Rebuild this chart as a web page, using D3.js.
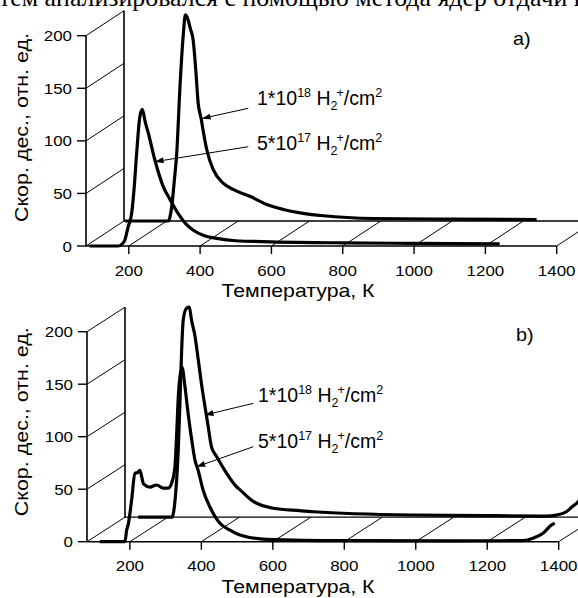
<!DOCTYPE html>
<html>
<head>
<meta charset="utf-8" />
<title>TDS spectra</title>
<script src="https://d3js.org/d3.v7.min.js"></script>
<style>
  body { margin: 0; background: #fff; }
  svg text { font-family: "Liberation Sans", Arial, sans-serif; fill: #000; }
</style>
</head>
<body>
<script>
// axis ticks
let xTicks = [200, 400, 600, 800, 1000, 1200, 1400];
let yTicks = [0, 50, 100, 150, 200];

// panel a) front layer (5*10^17)
let aFrontT = [90, 170, 180, 189, 198, 208, 215, 222, 231, 238, 246, 255, 273, 296, 316, 340, 360, 381, 410, 446, 500, 600, 800, 1000, 1240];
let aFrontV = [0, 0, 1.5, 5.7, 18, 31, 55, 88, 123, 130, 118, 107, 82, 57, 44, 30, 21, 15, 10, 7.3, 5, 4, 3, 2.5, 2];
// panel a) back layer (1*10^18)
let aBackT = [83, 204, 209, 214, 221, 228, 237, 246, 252, 258, 266, 274, 281, 288, 296, 303, 312, 330, 358, 386, 433, 480, 527, 574, 640, 780, 1000, 1237];
let aBackV = [0, 0, 4, 14, 38, 65, 128, 176, 196, 193, 183, 172, 145, 112, 98, 84, 68, 49, 36, 30, 23.5, 15.7, 11, 7.8, 5, 2.4, 1.8, 1.4];

// panel b) front layer (5*10^17)
let bFrontT = [116, 186, 191, 196, 205, 214, 222, 228, 233, 238, 256, 275, 293, 307, 317, 326, 331, 335, 340, 346, 354, 363, 373, 382, 391, 405, 424, 452, 480, 508, 582, 800, 1100, 1300, 1328, 1356, 1380, 1389];
let bFrontV = [0, 0, 11, 17.5, 40, 65, 66, 68, 62, 55, 52, 54, 51, 51, 56, 71, 103, 135, 157, 166, 148, 122, 97, 78, 68, 49, 33, 17.5, 11, 6.4, 2.3, 1, 0.8, 1, 3.2, 8, 16, 17.5];
// panel b) back layer (1*10^18)
let bBackT = [117, 212, 216, 220, 229, 234, 238.5, 243, 252, 260, 266, 276, 285, 294, 304, 313, 322, 336, 364, 392, 402, 439, 495, 569, 607, 886, 1100, 1259, 1287, 1315, 1334, 1348, 1362];
let bBackV = [0, 0, 5, 16, 64, 112, 159, 188, 199, 200, 188, 172, 150, 127, 105, 86, 67, 58, 42, 29, 26, 15, 8.5, 6.2, 5.2, 2.1, 1.5, 1.1, 2, 5.2, 10.7, 14.8, 22];

// where the arrows point: [T, value, layer]
let aArrowTips = [[298.7, 97.5, 1], [273.5, 80.2, 0]];
let bArrowTips = [[303.7, 97.3, 1], [386.8, 71.4, 0]];

let doses = [["1*10", "18"], ["5*10", "17"]];

let width = 578, height = 598;
let svg = d3.select("body").append("svg").attr("width", width).attr("height", height);

// arrowhead
svg.append("defs").append("marker")
  .attr("id", "head").attr("viewBox", "0 0 10 7")
  .attr("refX", 10).attr("refY", 3.5)
  .attr("markerWidth", 10).attr("markerHeight", 6)
  .attr("markerUnits", "userSpaceOnUse").attr("orient", "auto")
  .append("path").attr("d", "M0,0 L10,3.5 L0,7 Z").attr("fill", "#000");

// line of document text cut at the top
svg.append("text")
  .attr("x", -1).attr("y", 6)
  .attr("textLength", 600).attr("lengthAdjust", "spacingAndGlyphs")
  .style("font-family", "'Liberation Serif', 'Times New Roman', serif")
  .style("font-size", "26px")
  .text("тем анализировался с помощью метода ядер отдачи на");

let panels = [
  { front: [aFrontT, aFrontV], back: [aBackT, aBackV], tips: aArrowTips, name: "a)",
    xr: [86, 556.7], yr: [246, 35.7], dx: 38, dy: -25,
    textX: 257, textY: [105, 150], tails: [[248.3, 108.3], [248.3, 146.7]],
    nameX: 513, nameY: 45, ylabY: 127.5 },
  { front: [bFrontT, bFrontV], back: [bBackT, bBackV], tips: bArrowTips, name: "b)",
    xr: [87, 558.7], yr: [541.7, 331.7], dx: 38, dy: -24.5,
    textX: 258, textY: [401.5, 448], tails: [[253.3, 403.3], [253.3, 446.7]],
    nameX: 516, nameY: 341, ylabY: 421.7 }
];

function stretched(g, x, y, s, txt, size, anchor) {
  return g.append("text")
    .attr("transform", `translate(${x},${y}) scale(${s},1)`)
    .attr("text-anchor", anchor)
    .style("font-size", size + "px")
    .text(txt);
}

panels.forEach(p => {
  let g = svg.append("g");
  let x = d3.scaleLinear().domain([80, 1400]).range(p.xr);
  let y = d3.scaleLinear().domain([0, 200]).range(p.yr);
  let px = (t, l) => x(t) + l * p.dx;
  let py = (v, l) => y(v) + l * p.dy;

  // back plane
  g.append("line").attr("x1", px(80, 1)).attr("x2", px(80, 1))
    .attr("y1", py(0, 1)).attr("y2", py(200, 1))
    .attr("stroke", "#000").attr("stroke-width", 1.6);
  g.append("line").attr("x1", px(80, 1)).attr("x2", px(1400, 1))
    .attr("y1", py(0, 1)).attr("y2", py(0, 1))
    .attr("stroke", "#000").attr("stroke-width", 1.3);

  // oblique lines from the front ticks to the back
  g.selectAll(".dx").data(xTicks).join("line")
    .attr("x1", d => px(d, 0)).attr("y1", py(0, 0))
    .attr("x2", d => px(d, 1)).attr("y2", py(0, 1))
    .attr("stroke", "#000").attr("stroke-width", 1);
  g.selectAll(".dy").data(yTicks).join("line")
    .attr("x1", px(80, 0)).attr("y1", d => py(d, 0))
    .attr("x2", px(80, 1)).attr("y2", d => py(d, 1))
    .attr("stroke", "#000").attr("stroke-width", 1);

  let line = d3.line().curve(d3.curveMonotoneX);

  // back curve
  let [bt, bv] = p.back;
  g.append("path")
    .attr("d", line(bt.map((t, i) => [px(t, 1), py(bv[i], 1)])))
    .attr("fill", "none").attr("stroke", "#000").attr("stroke-width", 3.2)
    .attr("stroke-linejoin", "round");

  // front axes
  g.append("line").attr("x1", px(80, 0)).attr("x2", px(80, 0))
    .attr("y1", py(0, 0)).attr("y2", py(200, 0))
    .attr("stroke", "#000").attr("stroke-width", 1.6);
  g.append("line").attr("x1", px(80, 0)).attr("x2", px(1400, 0))
    .attr("y1", py(0, 0)).attr("y2", py(0, 0))
    .attr("stroke", "#000").attr("stroke-width", 1.4);
  g.selectAll(".ty").data(yTicks).join("line")
    .attr("x1", px(80, 0) - 9).attr("x2", px(80, 0))
    .attr("y1", d => py(d, 0)).attr("y2", d => py(d, 0))
    .attr("stroke", "#000").attr("stroke-width", 1.4);
  g.selectAll(".tx").data(xTicks).join("line")
    .attr("x1", d => px(d, 0)).attr("x2", d => px(d, 0))
    .attr("y1", py(0, 0)).attr("y2", py(0, 0) + 8)
    .attr("stroke", "#000").attr("stroke-width", 1.4);

  yTicks.forEach(d => stretched(g, px(80, 0) - 14, py(d, 0) + 5.5, 1.13, d, 15, "end"));
  xTicks.forEach(d => stretched(g, px(d, 0), py(0, 0) + 29.5, 1.13, d, 15, "middle"));

  // front curve
  let [ft, fv] = p.front;
  g.append("path")
    .attr("d", line(ft.map((t, i) => [px(t, 0), py(fv[i], 0)])))
    .attr("fill", "none").attr("stroke", "#000").attr("stroke-width", 3.2)
    .attr("stroke-linejoin", "round");

  // axis titles
  g.append("text")
    .attr("x", 298).attr("y", py(0, 0) + 51)
    .attr("text-anchor", "middle")
    .attr("textLength", 153).attr("lengthAdjust", "spacingAndGlyphs")
    .style("font-size", "18.5px")
    .text("Температура, К");
  g.append("text")
    .attr("transform", `translate(28,${p.ylabY}) rotate(-90)`)
    .attr("text-anchor", "middle")
    .attr("textLength", 189).attr("lengthAdjust", "spacingAndGlyphs")
    .style("font-size", "18.5px")
    .text("Скор. дес., отн. ед.");

  stretched(g, p.nameX, p.nameY, 1.1, p.name, 18, "start");

  // dose labels with arrows
  doses.forEach((d, i) => {
    let t = g.append("text").attr("x", p.textX).attr("y", p.textY[i]).style("font-size", "19.5px");
    t.append("tspan").text(d[0]);
    t.append("tspan").attr("dy", -8).style("font-size", "12.5px").text(d[1]);
    t.append("tspan").attr("dy", 8).text(" H");
    t.append("tspan").attr("dy", 5).style("font-size", "12.5px").text("2");
    t.append("tspan").attr("dy", -13).attr("dx", -1).style("font-size", "12.5px").text("+");
    t.append("tspan").attr("dy", 8).text("/cm");
    t.append("tspan").attr("dy", -8).style("font-size", "12.5px").text("2");

    let tip = p.tips[i];
    g.append("line")
      .attr("x1", p.tails[i][0]).attr("y1", p.tails[i][1])
      .attr("x2", px(tip[0], tip[2])).attr("y2", py(tip[1], tip[2]))
      .attr("stroke", "#000").attr("stroke-width", 1)
      .attr("marker-end", "url(#head)");
  });
});
</script>
</body>
</html>
